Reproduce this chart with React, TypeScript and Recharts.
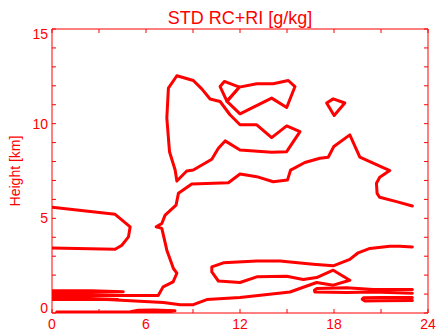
import React from 'react';
import { ScatterChart, Scatter, XAxis, YAxis, ReferenceLine } from 'recharts';

type Pt = { x: number; y: number };

const RED = '#ff0000';
const FONT = '"Liberation Sans", Arial, Helvetica, sans-serif';

// axis ticks (minor every 3 h / 1 km, labels on the majors)
const xTicks = [0, 3, 6, 9, 12, 15, 18, 21, 24];
const xLabels = [0, 6, 12, 18, 24];
const yTicks = [0, 1, 2, 3, 4, 5, 6, 7, 8, 9, 10, 11, 12, 13, 14, 15];
const yLabels = [0, 5, 10, 15];

// contour paths, x = hour, y = height [km]
const shelfLeft: Pt[] = [
  { x: 0, y: 5.58 }, { x: 4.03, y: 5.21 }, { x: 4.99, y: 4.55 }, { x: 4.88, y: 4.02 },
  { x: 4.46, y: 3.58 }, { x: 4.03, y: 3.37 }, { x: 0, y: 3.43 },
];

const mainBody: Pt[] = [
  { x: 0, y: 0.92 }, { x: 6.78, y: 0.92 }, { x: 7.09, y: 1.38 }, { x: 7.73, y: 1.64 },
  { x: 7.97, y: 2.1 }, { x: 7.75, y: 2.35 }, { x: 7.33, y: 3.32 }, { x: 7.01, y: 4.47 },
  { x: 6.65, y: 4.55 }, { x: 7.01, y: 4.73 }, { x: 7.22, y: 5.17 }, { x: 7.92, y: 5.7 },
  { x: 8.07, y: 6.32 }, { x: 8.92, y: 6.81 }, { x: 11.26, y: 6.88 }, { x: 12.0, y: 7.34 },
  { x: 13.07, y: 7.2 }, { x: 14.12, y: 6.93 }, { x: 15.03, y: 7.02 }, { x: 15.23, y: 7.55 },
  { x: 16.14, y: 7.95 }, { x: 17.1, y: 8.17 }, { x: 17.63, y: 8.23 }, { x: 17.99, y: 8.79 },
  { x: 19.01, y: 9.41 }, { x: 19.65, y: 8.23 }, { x: 21.56, y: 7.52 }, { x: 20.92, y: 7.17 },
  { x: 20.71, y: 6.85 }, { x: 20.75, y: 6.32 }, { x: 20.92, y: 6.11 }, { x: 21.99, y: 5.88 },
  { x: 23.0, y: 5.65 },
];

const lowBand: Pt[] = [
  { x: 23.0, y: 3.49 }, { x: 22.2, y: 3.53 }, { x: 21.56, y: 3.53 }, { x: 20.29, y: 3.41 },
  { x: 19.54, y: 3.18 }, { x: 19.01, y: 2.83 }, { x: 17.95, y: 2.49 }, { x: 16.67, y: 2.58 },
  { x: 14.55, y: 2.75 }, { x: 13.07, y: 2.75 }, { x: 10.94, y: 2.65 }, { x: 10.2, y: 2.44 },
  { x: 10.2, y: 2.17 }, { x: 10.62, y: 1.69 }, { x: 12.0, y: 1.61 }, { x: 13.07, y: 1.91 },
  { x: 14.98, y: 1.94 }, { x: 16.04, y: 1.77 }, { x: 16.89, y: 1.87 }, { x: 17.95, y: 2.26 },
  { x: 19.01, y: 1.73 }, { x: 17.95, y: 1.47 }, { x: 16.89, y: 1.61 }, { x: 15.19, y: 1.11 },
  { x: 12.0, y: 0.82 }, { x: 9.88, y: 0.71 }, { x: 9.02, y: 0.44 }, { x: 8.18, y: 0.44 },
  { x: 7.11, y: 0.55 }, { x: 3.5, y: 0.71 }, { x: 0, y: 0.71 },
];

const upperHook: Pt[] = [
  { x: 7.97, y: 12.53 }, { x: 9.02, y: 12.28 }, { x: 9.56, y: 11.84 }, { x: 10.09, y: 11.3 },
  { x: 10.73, y: 11.17 }, { x: 11.36, y: 10.47 }, { x: 12.0, y: 9.94 }, { x: 13.07, y: 9.94 },
  { x: 14.02, y: 9.26 }, { x: 14.98, y: 9.88 }, { x: 15.83, y: 9.58 }, { x: 14.98, y: 8.52 },
  { x: 14.02, y: 8.49 }, { x: 12.0, y: 8.61 }, { x: 11.05, y: 9.09 }, { x: 10.62, y: 8.7 },
  { x: 10.2, y: 8.12 }, { x: 9.02, y: 7.55 }, { x: 8.6, y: 7.5 }, { x: 7.97, y: 6.97 },
  { x: 7.86, y: 7.55 }, { x: 7.5, y: 8.52 }, { x: 7.33, y: 10.29 }, { x: 7.43, y: 11.88 },
  { x: 7.97, y: 12.53 },
];

const capNotch: Pt[] = [
  { x: 10.73, y: 11.96 }, { x: 11.0, y: 12.23 }, { x: 11.96, y: 11.93 }, { x: 11.17, y: 11.18 },
  { x: 10.73, y: 11.96 },
];

const capLoop: Pt[] = [
  { x: 11.96, y: 11.93 }, { x: 13.07, y: 12.11 }, { x: 14.12, y: 12.11 }, { x: 15.08, y: 12.28 },
  { x: 15.51, y: 11.96 }, { x: 14.98, y: 10.85 }, { x: 14.02, y: 11.35 }, { x: 12.0, y: 10.52 },
  { x: 11.17, y: 11.18 }, { x: 11.96, y: 11.93 },
];

const smallCell: Pt[] = [
  { x: 17.53, y: 11.09 }, { x: 17.95, y: 11.31 }, { x: 18.69, y: 11.09 }, { x: 18.01, y: 10.43 },
  { x: 17.53, y: 11.09 },
];

const surface: Pt[] = [
  { x: 0.3, y: 0.05 }, { x: 5.0, y: 0.07 }, { x: 5.5, y: 0.14 }, { x: 6.5, y: 0.16 },
  { x: 7.85, y: 0.12 }, { x: 7.3, y: 0.04 }, { x: 6.0, y: 0.05 }, { x: 0.3, y: 0.05 },
];

const leftStreak: Pt[] = [
  { x: 0, y: 1.18 }, { x: 2.5, y: 1.17 }, { x: 4.55, y: 1.12 }, { x: 2.5, y: 1.08 }, { x: 0, y: 1.07 },
];

const leftTail: Pt[] = [
  { x: 0, y: 0.81 }, { x: 2.0, y: 0.78 }, { x: 4.2, y: 0.71 },
];

const rightStreak: Pt[] = [
  { x: 23.0, y: 1.24 }, { x: 20.5, y: 1.24 }, { x: 18.8, y: 1.34 }, { x: 16.89, y: 1.29 },
  { x: 16.75, y: 1.2 }, { x: 16.78, y: 1.11 }, { x: 18.8, y: 1.08 }, { x: 20.5, y: 1.11 },
  { x: 23.0, y: 1.04 },
];

const rightTail: Pt[] = [
  { x: 23.0, y: 0.82 }, { x: 21.0, y: 0.82 }, { x: 19.9, y: 0.81 }, { x: 19.8, y: 0.73 },
  { x: 19.95, y: 0.64 }, { x: 21.0, y: 0.65 }, { x: 23.0, y: 0.66 },
];

const contours = [
  shelfLeft, mainBody, lowBand, upperHook, capNotch, capLoop, smallCell,
  surface, leftStreak, leftTail, rightStreak, rightTail,
];

const W = 437;
const H = 335;
const X_AXIS_H = 22;
const Y_AXIS_W = 52;
const margin = { top: 29, right: 9, bottom: 0, left: 0 };
const PLOT_TOP = margin.top;
const PLOT_BOTTOM = H - X_AXIS_H;
const PLOT_LEFT = Y_AXIS_W;
const PLOT_RIGHT = W - margin.right;
const TICK = 4;

// ticks point inward on both the bottom and the top edge
const XTick = (props: any) => {
  const { x, payload } = props;
  const v = payload.value;
  return (
    <g>
      <line x1={x} y1={PLOT_BOTTOM} x2={x} y2={PLOT_BOTTOM - TICK} stroke={RED} />
      <line x1={x} y1={PLOT_TOP} x2={x} y2={PLOT_TOP + TICK} stroke={RED} />
      {xLabels.includes(v) && (
        <text x={x} y={PLOT_BOTTOM + 16} textAnchor="middle" fill={RED} fontSize={14} fontFamily={FONT}>
          {v}
        </text>
      )}
    </g>
  );
};

const YTick = (props: any) => {
  const { y, payload } = props;
  const v = payload.value;
  // end labels are pulled inside the axis range
  const dy = v === 15 ? 10 : v === 0 ? 0 : 5;
  return (
    <g>
      <line x1={PLOT_LEFT} y1={y} x2={PLOT_LEFT + TICK} y2={y} stroke={RED} />
      <line x1={PLOT_RIGHT} y1={y} x2={PLOT_RIGHT - TICK} y2={y} stroke={RED} />
      {yLabels.includes(v) && (
        <text x={PLOT_LEFT - 4} y={y + dy} textAnchor="end" fill={RED} fontSize={14} fontFamily={FONT}>
          {v}
        </text>
      )}
    </g>
  );
};

const noDot = () => <g />;

export default function App() {
  return (
    <div style={{ position: 'absolute', left: 0, top: 0, width: W, height: H, background: '#fff' }}>
      <ScatterChart width={W} height={H} margin={margin}>
        <XAxis
          dataKey="x"
          type="number"
          domain={[0, 24]}
          ticks={xTicks}
          interval={0}
          height={X_AXIS_H}
          tickSize={0}
          tickMargin={0}
          tickLine={false}
          tick={<XTick />}
          axisLine={{ stroke: RED }}
          allowDataOverflow
        />
        <YAxis
          dataKey="y"
          type="number"
          domain={[0, 15]}
          ticks={yTicks}
          interval={0}
          width={Y_AXIS_W}
          tickSize={0}
          tickMargin={0}
          tickLine={false}
          tick={<YTick />}
          axisLine={{ stroke: RED }}
          allowDataOverflow
        />
        <ReferenceLine y={15} stroke={RED} />
        <ReferenceLine x={24} stroke={RED} />
        {contours.map((pts, i) => (
          <Scatter
            key={i}
            data={pts}
            fill={RED}
            line={{ stroke: RED, strokeWidth: 3, strokeLinejoin: 'round', strokeLinecap: 'round' }}
            lineJointType="linear"
            shape={noDot}
            legendType="none"
            isAnimationActive={false}
          />
        ))}
        <text x={(PLOT_LEFT + PLOT_RIGHT) / 2} y={24} textAnchor="middle" fill={RED} fontSize={18} fontFamily={FONT}>
          STD RC+RI [g/kg]
        </text>
        <text
          x={20}
          y={(PLOT_TOP + PLOT_BOTTOM) / 2}
          transform={`rotate(-90 20 ${(PLOT_TOP + PLOT_BOTTOM) / 2})`}
          textAnchor="middle"
          fill={RED}
          fontSize={14}
          fontFamily={FONT}
        >
          Height [km]
        </text>
      </ScatterChart>
    </div>
  );
}
